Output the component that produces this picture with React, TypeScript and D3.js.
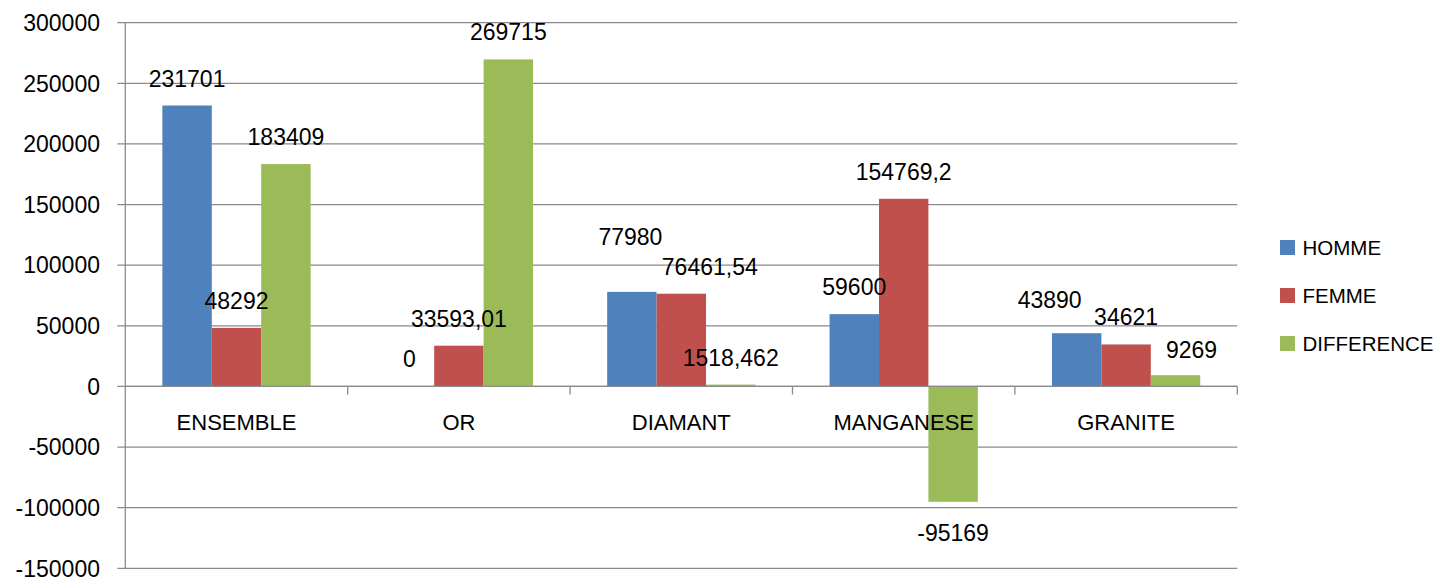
import React from "react";
import * as d3 from "d3";

const categories = ["ENSEMBLE", "OR", "DIAMANT", "MANGANESE", "GRANITE"];
const seriesNames = ["HOMME", "FEMME", "DIFFERENCE"];
const homme = [231701, 0, 77980, 59600, 43890];
const femme = [48292, 33593.01, 76461.54, 154769.2, 34621];
const difference = [183409, 269715, 1518.462, -95169, 9269];
const yTicks = [-150000, -100000, -50000, 0, 50000, 100000, 150000, 200000, 250000, 300000];
const colors = ["#4F81BD", "#C0504D", "#9BBB59"];

// manual label nudges (as in the reference, where some labels were moved)
const labelNudges: Record<string, { dx: number; dy: number }> = {
  "HOMME|DIAMANT": { dx: -1.5, dy: -28 },
  "FEMME|DIAMANT": { dx: 28.5, dy: 0 },
  "HOMME|GRANITE": { dx: -27, dy: -6.5 },
  "DIFFERENCE|GRANITE": { dx: 16, dy: 1.5 },
};

const W = 1434;
const H = 577;
const FONT = "'Liberation Sans', Arial, sans-serif";

export default function App() {
  const values = [homme, femme, difference];
  const y = d3.scaleLinear().domain([-150000, 300000]).range([568.3, 22.7]);
  const x = d3.scaleBand<string>().domain(categories).range([125.3, 1237.3]).paddingInner(0).paddingOuter(0);
  const xs = d3.scaleBand<string>().domain(seriesNames).range([0, x.bandwidth()]).paddingInner(0).paddingOuter(0.75);
  const left = 125.3;
  const right = 1237.3;
  const y0 = y(0);
  const fmt = (v: number) => String(v).replace(".", ",");
  const gridColor = "#8a8a8a";

  return (
    <svg width={W} height={H} style={{ position: "absolute", left: 0, top: 0, background: "#fff" }} fontFamily={FONT}>
      <rect x={0} y={0} width={W} height={H} fill="#fff" />
      {yTicks.map((t) => (
        <g key={t}>
          <line x1={left - 8} x2={right} y1={y(t)} y2={y(t)} stroke={gridColor} strokeWidth={1.3} />
          <text x={100} y={y(t) + 8.2} textAnchor="end" fontSize={23} fill="#000">
            {t}
          </text>
        </g>
      ))}
      {/* vertical axis */}
      <line x1={left} x2={left} y1={y(300000)} y2={y(-150000)} stroke={gridColor} strokeWidth={1.3} />
      {/* category ticks */}
      {categories.map((c) => (
        <line key={"t" + c} x1={(x(c) as number) + x.bandwidth()} x2={(x(c) as number) + x.bandwidth()} y1={y0} y2={y0 + 8} stroke={gridColor} strokeWidth={1.3} />
      ))}
      {/* bars */}
      {seriesNames.map((s, si) =>
        categories.map((c, ci) => {
          const v = values[si][ci];
          const bx = (x(c) as number) + (xs(s) as number);
          const top = Math.min(y(v), y0);
          const h = Math.abs(y(v) - y0);
          return <rect key={s + c} x={bx} y={top} width={xs.bandwidth()} height={h} fill={colors[si]} />;
        })
      )}
      {/* zero axis line on top */}
      <line x1={left} x2={right} y1={y0} y2={y0} stroke={gridColor} strokeWidth={1.3} />
      {/* data labels */}
      {seriesNames.map((s, si) =>
        categories.map((c, ci) => {
          const v = values[si][ci];
          const n = labelNudges[s + "|" + c] || { dx: 0, dy: 0 };
          const cx = (x(c) as number) + (xs(s) as number) + xs.bandwidth() / 2 + n.dx;
          const ty = (v >= 0 ? y(v) - 19 : y(v) + 39) + n.dy;
          return (
            <text key={"l" + s + c} x={cx} y={ty} textAnchor="middle" fontSize={23} fill="#000">
              {fmt(v)}
            </text>
          );
        })
      )}
      {/* category labels */}
      {categories.map((c) => (
        <text key={"c" + c} x={(x(c) as number) + x.bandwidth() / 2} y={430} textAnchor="middle" fontSize={22} fill="#000">
          {c}
        </text>
      ))}
      {/* legend */}
      {seriesNames.map((s, i) => (
        <g key={"lg" + s} transform={`translate(1280, ${240 + i * 48})`}>
          <rect x={0} y={0} width={15} height={15} fill={colors[i]} />
          <text x={22.5} y={15} fontSize={20.5} fill="#000">
            {s}
          </text>
        </g>
      ))}
    </svg>
  );
}
